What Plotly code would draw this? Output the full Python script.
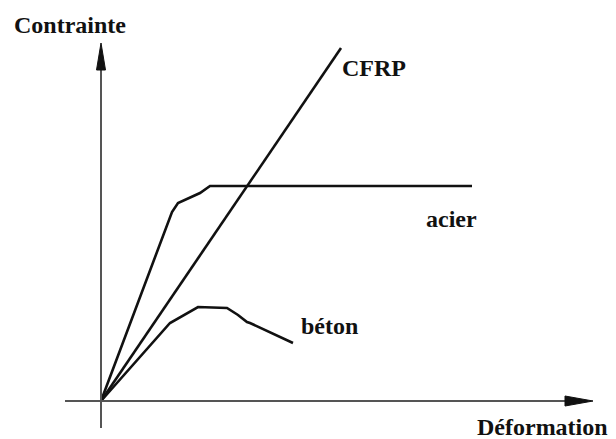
import plotly.graph_objects as go

# Data (arbitrary units: Déformation on x, Contrainte on y)
cfrp_x = [0, 240]
cfrp_y = [0, 353]

acier_x = [0, 71, 77, 86, 99, 109, 371]
acier_y = [0, 189, 198, 202, 208, 215, 215]

beton_x = [0, 69, 97, 126, 137, 146, 149, 160, 192]
beton_y = [0, 78, 94, 93, 86, 79, 78, 73, 58]

labels = ["CFRP", "acier", "béton"]
label_x = [273, 350, 228]
label_y = [333, 182, 75]

x_title = "Déformation"
y_title = "Contrainte"

fig = go.Figure()

for xs, ys in [(cfrp_x, cfrp_y), (acier_x, acier_y), (beton_x, beton_y)]:
    fig.add_trace(go.Scatter(x=xs, y=ys, mode="lines",
                             line=dict(color="#111111", width=2.6),
                             hoverinfo="skip", showlegend=False))

axis_col = "#555555"
# axes lines
fig.add_shape(type="line", x0=0, y0=-27, x1=0, y1=335,
              line=dict(color=axis_col, width=2))
fig.add_shape(type="line", x0=-36, y0=0, x1=468, y1=0,
              line=dict(color=axis_col, width=2))
# arrow heads
fig.add_shape(type="path", path="M -4.5 331 L 0 358 L 4.5 331 Z",
              fillcolor="#111111", line=dict(color="#111111", width=1))
fig.add_shape(type="path", path="M 464 -5 L 492 0 L 464 5 Z",
              fillcolor="#111111", line=dict(color="#111111", width=1))

font = dict(family="Liberation Serif", size=24, color="#111111")
def bold(t):
    return "<b>" + t + "</b>"

for t, x, y in zip(labels, label_x, label_y):
    fig.add_annotation(x=x, y=y, text=bold(t), showarrow=False, font=font,
                       xanchor="center", yanchor="middle")
fig.add_annotation(x=-31.5, y=376, text=bold(y_title), showarrow=False,
                   font=font, xanchor="center", yanchor="middle")
fig.add_annotation(x=441.5, y=-26, text=bold(x_title), showarrow=False,
                   font=font, xanchor="center", yanchor="middle")

# page body has an 8px margin; the figure fills the rest of the window
fig.update_layout(
    width=608, height=431,
    margin=dict(l=0, r=0, t=0, b=0),
    paper_bgcolor="white", plot_bgcolor="white",
    xaxis=dict(range=[-93, 515], visible=False, fixedrange=True),
    yaxis=dict(range=[-38, 393], visible=False, fixedrange=True),
    showlegend=False,
)

fig.write_html("out.html")
